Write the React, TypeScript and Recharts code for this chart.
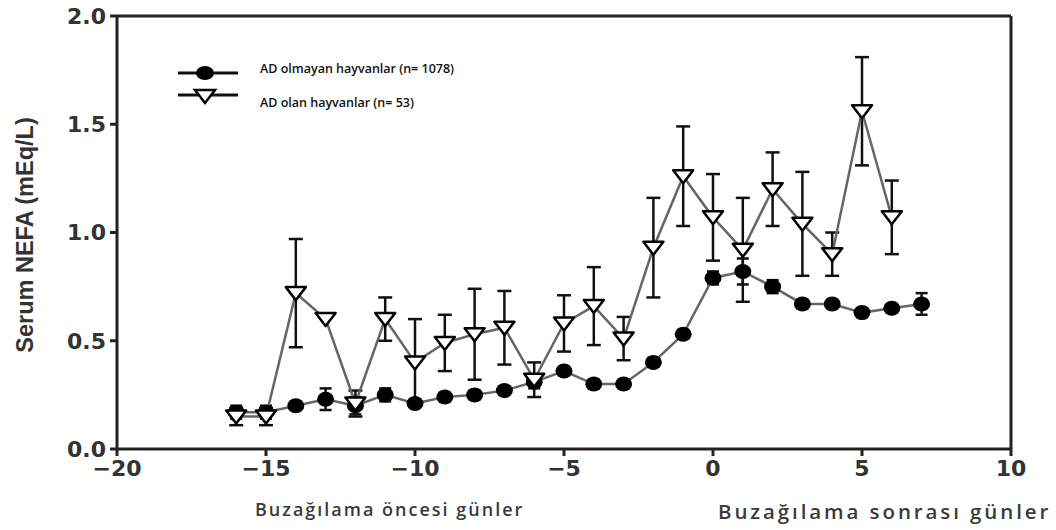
import { LineChart, Line, XAxis, YAxis, ErrorBar, ReferenceLine } from 'recharts';

// Days relative to calving
const nonAdDays = [-16, -15, -14, -13, -12, -11, -10, -9, -8, -7, -6, -5, -4, -3, -2, -1, 0, 1, 2, 3, 4, 5, 6, 7];
const nonAdNefa = [0.17, 0.17, 0.2, 0.23, 0.2, 0.25, 0.21, 0.24, 0.25, 0.27, 0.31, 0.36, 0.3, 0.3, 0.4, 0.53, 0.79, 0.82, 0.75, 0.67, 0.67, 0.63, 0.65, 0.67];
const nonAdErr = [0.03, 0.03, 0.02, 0.05, 0.04, 0.03, 0.02, 0.02, 0.02, 0.02, 0.03, 0.02, 0.02, 0.02, 0.02, 0.02, 0.03, 0.06, 0.03, 0.02, 0.02, 0.02, 0.02, 0.05];

const adDays = [-16, -15, -14, -13, -12, -11, -10, -9, -8, -7, -6, -5, -4, -3, -2, -1, 0, 1, 2, 3, 4, 5, 6];
const adNefa = [0.15, 0.15, 0.72, 0.6, 0.21, 0.6, 0.4, 0.49, 0.53, 0.56, 0.32, 0.58, 0.66, 0.51, 0.93, 1.26, 1.07, 0.92, 1.2, 1.04, 0.9, 1.56, 1.07];
const adErr = [0.04, 0.04, 0.25, 0, 0.06, 0.1, 0.2, 0.13, 0.21, 0.17, 0.08, 0.13, 0.18, 0.1, 0.23, 0.23, 0.2, 0.24, 0.17, 0.24, 0.1, 0.25, 0.17];

const xTicks = [-20, -15, -10, -5, 0, 5, 10];
const yTicks = [0, 0.5, 1, 1.5, 2];

const nonAdData = nonAdDays.map((d, i) => ({ day: d, value: nonAdNefa[i], err: nonAdErr[i] }));
const adData = adDays.map((d, i) => ({ day: d, value: adNefa[i], err: adErr[i] }));

const tickFont = { fontFamily: 'DejaVu Sans', fontWeight: 'bold', fontSize: 22, fill: '#333' };

const CircleDot = (props: any) => {
  const { cx, cy, index } = props;
  return <ellipse key={`c-${index}`} cx={cx} cy={cy} rx={8.5} ry={7.5} fill="#000" />;
};

const TriangleDot = (props: any) => {
  const { cx, cy, index } = props;
  return (
    <polygon
      key={`t-${index}`}
      points={`${cx - 10},${cy - 6} ${cx + 10},${cy - 6} ${cx},${cy + 7}`}
      fill="#fff"
      stroke="#000"
      strokeWidth={2.5}
      strokeLinejoin="round"
    />
  );
};

export default function App() {
  return (
    <div style={{ position: 'absolute', left: 0, top: 0, width: 1056, height: 530, background: '#fff' }}>
      <LineChart width={1056} height={530} margin={{ top: 16, right: 45, left: 57, bottom: 46 }}>
        <XAxis
          dataKey="day"
          type="number"
          domain={[-20, 10]}
          ticks={xTicks}
          tickFormatter={(v: number) => String(v).replace('-', '\u2212')}
          tick={tickFont}
          tickSize={7}
          tickMargin={4}
          height={35}
          axisLine={{ stroke: '#222', strokeWidth: 3 }}
          tickLine={{ stroke: '#222', strokeWidth: 3 }}
          allowDuplicatedCategory={false}
        />
        <YAxis
          type="number"
          domain={[0, 2]}
          ticks={yTicks}
          tickFormatter={(v: number) => v.toFixed(1)}
          tick={tickFont}
          tickSize={7}
          tickMargin={4}
          width={60}
          axisLine={{ stroke: '#222', strokeWidth: 3 }}
          tickLine={{ stroke: '#222', strokeWidth: 3 }}
        />
        <ReferenceLine y={2} stroke="#222" strokeWidth={3} />
        <ReferenceLine x={10} stroke="#222" strokeWidth={3} />
        <Line
          data={nonAdData}
          dataKey="value"
          stroke="#666"
          strokeWidth={2.5}
          dot={CircleDot}
          activeDot={false}
          isAnimationActive={false}
        >
          <ErrorBar dataKey="err" width={6} stroke="#111" strokeWidth={2.5} direction="y" isAnimationActive={false} />
        </Line>
        <Line
          data={adData}
          dataKey="value"
          stroke="#666"
          strokeWidth={2.5}
          dot={TriangleDot}
          activeDot={false}
          isAnimationActive={false}
        >
          <ErrorBar dataKey="err" width={7} stroke="#111" strokeWidth={2.5} direction="y" isAnimationActive={false} />
        </Line>
      </LineChart>

      {/* legend */}
      <svg style={{ position: 'absolute', left: 170, top: 55 }} width={80} height={60}>
        <line x1={8} y1={18} x2={68} y2={18} stroke="#111" strokeWidth={3} />
        <ellipse cx={35} cy={18} rx={9} ry={7} fill="#000" />
        <line x1={8} y1={40} x2={68} y2={40} stroke="#111" strokeWidth={3} />
        <polygon points="25,35 45,35 35,48" fill="#fff" stroke="#000" strokeWidth={2.5} />
      </svg>
      <div style={{ position: 'absolute', left: 260, top: 60, fontFamily: 'Open Sans', fontWeight: 600, fontSize: 12.5, color: '#111' }}>
        AD olmayan hayvanlar (n= 1078)
      </div>
      <div style={{ position: 'absolute', left: 260, top: 94, fontFamily: 'Open Sans', fontWeight: 600, fontSize: 12.5, color: '#111' }}>
        AD olan hayvanlar (n= 53)
      </div>

      {/* y axis title */}
      <div
        style={{
          position: 'absolute',
          left: 25,
          top: 235,
          transform: 'translate(-50%, -50%) rotate(-90deg)',
          whiteSpace: 'nowrap',
          fontFamily: "'Liberation Sans Narrow', 'Liberation Sans'",
          fontWeight: 'bold',
          fontSize: 23.5,
          color: '#333',
        }}
      >
        Serum NEFA (mEq/L)
      </div>

      {/* x captions */}
      <div style={{ position: 'absolute', left: 255, top: 497, fontFamily: 'Open Sans', fontWeight: 600, fontSize: 18, letterSpacing: 2.0, color: '#3a3a3a', whiteSpace: 'nowrap' }}>
        Buzağılama öncesi günler
      </div>
      <div style={{ position: 'absolute', left: 718, top: 497, fontFamily: 'Open Sans', fontWeight: 600, fontSize: 20.5, letterSpacing: 2.9, color: '#3a3a3a', whiteSpace: 'nowrap' }}>
        Buzağılama sonrası günler
      </div>
    </div>
  );
}
